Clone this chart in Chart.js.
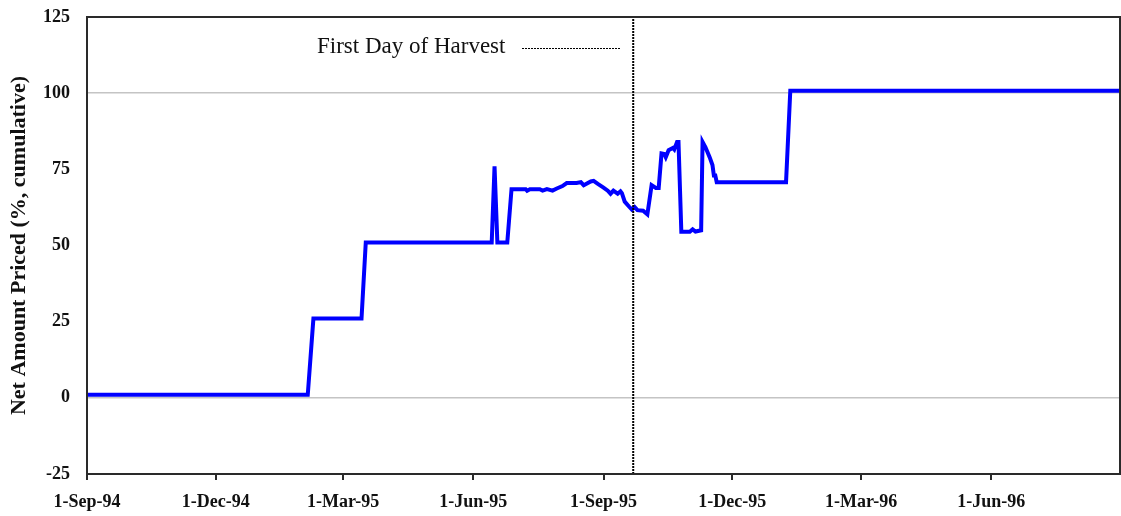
<!DOCTYPE html>
<html>
<head>
<meta charset="utf-8">
<script src="https://cdn.jsdelivr.net/npm/chart.js@4.4.1/dist/chart.umd.min.js"></script>
<style>
    html, body { margin: 0; padding: 0; background: #fff; }
    #wrap { width: 1121px; height: 516px; }
</style>
</head>
<body>
<div id="wrap"><canvas id="priced"></canvas></div>
<script>
const startDate = '1994-09-01';
const endDate = '1996-08-31';
const harvestDate = '1995-09-22';
const harvestLabel = 'First Day of Harvest';

const tickDates = ['1994-09-01', '1994-12-01', '1995-03-01', '1995-06-01', '1995-09-01', '1995-12-01', '1996-03-01', '1996-06-01'];
const tickLabels = ['1-Sep-94', '1-Dec-94', '1-Mar-95', '1-Jun-95', '1-Sep-95', '1-Dec-95', '1-Mar-96', '1-Jun-96'];

const seriesDates = [
    '1994-09-01', '1995-02-04', '1995-02-08', '1995-03-14', '1995-03-17', '1995-06-14', '1995-06-16', '1995-06-18',
    '1995-06-25', '1995-06-28', '1995-07-08', '1995-07-09', '1995-07-11', '1995-07-18', '1995-07-20', '1995-07-23',
    '1995-07-27', '1995-07-30', '1995-08-03', '1995-08-06', '1995-08-13', '1995-08-16', '1995-08-18', '1995-08-23',
    '1995-08-25', '1995-08-28', '1995-09-01', '1995-09-04', '1995-09-06', '1995-09-08', '1995-09-11', '1995-09-13',
    '1995-09-14', '1995-09-16', '1995-09-19', '1995-09-21', '1995-09-23', '1995-09-25', '1995-09-29', '1995-10-02',
    '1995-10-05', '1995-10-08', '1995-10-10', '1995-10-12', '1995-10-14', '1995-10-15', '1995-10-17', '1995-10-20',
    '1995-10-21', '1995-10-23', '1995-10-24', '1995-10-26', '1995-11-01', '1995-11-03', '1995-11-05', '1995-11-09',
    '1995-11-10', '1995-11-12', '1995-11-15', '1995-11-17', '1995-11-18', '1995-11-19', '1995-11-20', '1996-01-08',
    '1996-01-11', '1996-08-31'
];
const seriesValues = [
    1, 1, 26, 26, 51, 51, 76, 51,
    51, 68.5, 68.5, 68, 68.5, 68.5, 68, 68.5,
    68, 68.7, 69.5, 70.5, 70.5, 70.8, 69.8, 71,
    71.2, 70.2, 69, 68, 67, 68, 67, 67.8,
    67.2, 64.4, 62.8, 61.8, 62.6, 61.6, 61.4, 60.2,
    69.8, 68.9, 68.9, 80.2, 80, 79, 81.3, 82,
    81.5, 84, 84, 54.5, 54.5, 55.3, 54.6, 55,
    84, 82.3, 79, 76.4, 73, 73, 70.8, 70.8,
    100.8, 100.8
];

const yMin = -25;
const yMax = 125;
const yStep = 25;

// days since the first date of the axis
function dayOf(s) {
    const p = s.split('-').map(Number);
    const a = startDate.split('-').map(Number);
    return (Date.UTC(p[0], p[1] - 1, p[2]) - Date.UTC(a[0], a[1] - 1, a[2])) / 86400000;
}

const serif = 'Liberation Serif, Times New Roman, serif';
const tickDays = tickDates.map(dayOf);

const frame = {
    id: 'frame',
    afterDatasetsDraw(chart) {
        const a = chart.chartArea;
        const ctx = chart.ctx;
        ctx.save();
        ctx.strokeStyle = '#2a2a2a';
        ctx.lineWidth = 2;
        ctx.strokeRect(a.left, a.top, a.right - a.left, a.bottom - a.top);
        ctx.restore();
    }
};

const harvestLegend = {
    id: 'harvestLegend',
    afterDraw(chart) {
        const ctx = chart.ctx;
        ctx.save();
        ctx.font = '23px ' + serif;
        ctx.fillStyle = '#111';
        ctx.textBaseline = 'middle';
        ctx.textAlign = 'left';
        ctx.fillText(harvestLabel, 317, 47);
        ctx.strokeStyle = '#000';
        ctx.lineWidth = 1;
        ctx.setLineDash([2, 1]);
        ctx.beginPath();
        ctx.moveTo(522, 48.5);
        ctx.lineTo(620, 48.5);
        ctx.stroke();
        ctx.restore();
    }
};

new Chart(document.getElementById('priced'), {
    type: 'line',
    data: {
        datasets: [
            {
                label: harvestLabel,
                data: [{ x: dayOf(harvestDate), y: yMin }, { x: dayOf(harvestDate), y: yMax }],
                borderColor: '#000',
                borderWidth: 2,
                borderDash: [2, 1],
                pointRadius: 0
            },
            {
                label: 'Net Amount Priced',
                data: seriesDates.map((d, i) => ({ x: dayOf(d), y: seriesValues[i] })),
                borderColor: '#0000ff',
                borderWidth: 4,
                pointRadius: 0,
                tension: 0
            }
        ]
    },
    options: {
        responsive: true,
        maintainAspectRatio: false,
        animation: false,
        layout: { padding: { top: 17, right: 1, left: 0, bottom: 0 } },
        plugins: {
            legend: { display: false },
            tooltip: { enabled: false }
        },
        scales: {
            x: {
                type: 'linear',
                min: 0,
                max: dayOf(endDate),
                afterBuildTicks: function (scale) {
                    scale.ticks = tickDays.map(v => ({ value: v }));
                },
                afterFit: function (scale) {
                    scale.height = 42;
                    scale.paddingLeft = 0;
                    scale.paddingRight = 0;
                },
                border: { display: false },
                grid: {
                    drawOnChartArea: false,
                    drawTicks: true,
                    tickLength: 6,
                    color: '#2a2a2a',
                    lineWidth: 2
                },
                ticks: {
                    autoSkip: false,
                    maxRotation: 0,
                    padding: 12,
                    color: '#111',
                    font: { family: serif, size: 18, weight: 'bold' },
                    callback: function (value) {
                        const i = tickDays.indexOf(value);
                        return i >= 0 ? tickLabels[i] : '';
                    }
                }
            },
            y: {
                min: yMin,
                max: yMax,
                afterFit: function (scale) {
                    scale.width = 87;
                    scale.paddingTop = 0;
                    scale.paddingBottom = 0;
                },
                border: { display: false },
                grid: {
                    drawTicks: false,
                    lineWidth: 1.5,
                    color: function (context) {
                        const v = context.tick.value;
                        return (v === 0 || v === 100) ? '#c4c4c4' : 'rgba(0,0,0,0)';
                    }
                },
                ticks: {
                    stepSize: yStep,
                    padding: 17,
                    color: '#111',
                    font: { family: serif, size: 18, weight: 'bold' }
                },
                title: {
                    display: true,
                    text: 'Net Amount Priced (%, cumulative)',
                    color: '#111',
                    font: { family: serif, size: 22, weight: 'bold' },
                    padding: { top: 6, bottom: 0 }
                }
            }
        }
    },
    plugins: [frame, harvestLegend]
});
</script>
</body>
</html>
